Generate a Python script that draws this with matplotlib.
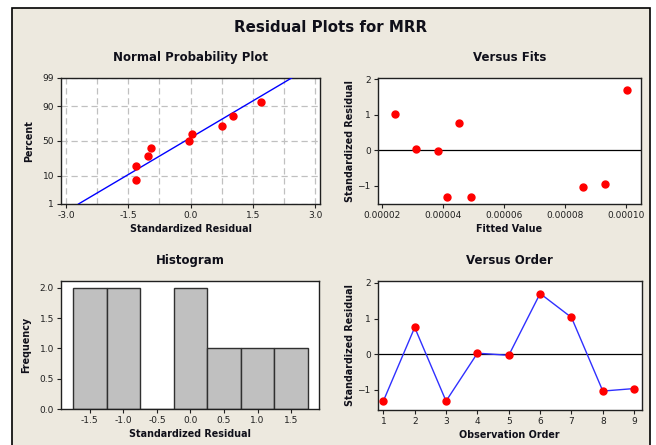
import numpy as np
import matplotlib
matplotlib.use('Agg')
from matplotlib import pyplot as plt
from matplotlib.patches import Rectangle
from matplotlib.ticker import MultipleLocator, FormatStrFormatter
from statistics import NormalDist

# Data
obs_order = [1, 2, 3, 4, 5, 6, 7, 8, 9]
residuals = [-1.31, 0.75, -1.31, 0.03, -0.03, 1.70, 1.03, -1.03, -0.96]
fitted = [4.13e-5, 4.53e-5, 4.94e-5, 3.135e-5, 3.835e-5, 1.003e-4, 2.446e-5, 8.6e-5, 9.33e-5]
prob_percent = [7.4, 18.1, 28.7, 39.4, 50.0, 60.6, 71.3, 81.9, 92.6]
hist_centers = [-1.5, -1.0, -0.5, 0.0, 0.5, 1.0, 1.5]
hist_counts = [2, 2, 0, 2, 1, 1, 1]
pct_ticks = [1, 10, 50, 90, 99]

nd = NormalDist()
def z(p):
    return nd.inv_cdf(p / 100.0)

W, H = 656, 445
bg = '#EDE9DF'
title_kw = dict(fontsize=8.5, fontweight='bold', color='#10101a')
label_kw = dict(fontsize=6.9, fontweight='bold', color='#10101a')

fig = plt.figure(figsize=(W / 100, H / 100), dpi=100)
fig.patch.set_facecolor('white')
fig.patches.append(Rectangle((12 / W, -0.05), (650 - 12) / W, 1.05 - 8 / H,
                             transform=fig.transFigure, facecolor=bg,
                             edgecolor='black', lw=1.2, zorder=-10))

fig.text(331 / W, 1 - 28 / H, 'Residual Plots for MRR', ha='center', va='center',
         fontsize=10.8, fontweight='bold', color='#10101a')


def px_axes(l, t, r, b):
    return fig.add_axes([l / W, 1 - b / H, (r - l) / W, (b - t) / H])


def style(ax):
    ax.set_facecolor('white')
    for s in ax.spines.values():
        s.set_color('#202020')
        s.set_linewidth(1.0)
    ax.tick_params(labelsize=6.5, length=3, width=0.8, colors='#202020', pad=2)


# Normal probability plot
ax1 = px_axes(61, 77.7, 320, 204)
style(ax1)
srt = np.sort(residuals)
zs = [z(p) for p in prob_percent]
mu, sd = np.mean(residuals), np.std(residuals, ddof=1)
zl = np.array([z(1), z(99)])
ax1.plot(mu + sd * zl, zl, color='blue', lw=1, zorder=3)
ax1.plot(srt, zs, 'o', color='red', ms=5, mec='red', zorder=4)
ax1.set_xlim(-3.12, 3.12)
ax1.set_ylim(z(1), z(99))
ax1.set_xticks([-3.0, -1.5, 0.0, 1.5, 3.0])
ax1.xaxis.set_major_formatter(FormatStrFormatter('%.1f'))
ax1.set_xticks(np.arange(-3.0, 3.01, 0.75), minor=True)
ax1.tick_params(axis='x', which='minor', length=0)
ax1.set_yticks([z(p) for p in pct_ticks])
ax1.set_yticklabels([str(p) for p in pct_ticks])
ax1.grid(True, which='both', axis='x', color='#c0c0c0', ls=(0, (5, 3)), lw=0.9)
ax1.grid(True, which='major', axis='y', color='#c0c0c0', ls=(0, (5, 3)), lw=0.9)
ax1.set_axisbelow(True)
ax1.set_title('Normal Probability Plot', pad=12, **title_kw)
ax1.set_xlabel('Standardized Residual', labelpad=3, **label_kw)
ax1.set_ylabel('Percent', labelpad=6, **label_kw)

# Versus fits
ax2 = px_axes(377.7, 77.7, 641, 204)
style(ax2)
ax2.axhline(0, color='black', lw=0.9)
ax2.plot(fitted, residuals, 'o', color='red', ms=5, zorder=4)
ax2.set_xlim(1.869e-5, 1.0502e-4)
ax2.set_ylim(-1.52, 2.04)
ax2.set_xticks([2e-5, 4e-5, 6e-5, 8e-5, 1e-4])
ax2.xaxis.set_major_formatter(FormatStrFormatter('%.5f'))
ax2.set_yticks([-1, 0, 1, 2])
ax2.set_title('Versus Fits', pad=12, **title_kw)
ax2.set_xlabel('Fitted Value', labelpad=3, **label_kw)
ax2.set_ylabel('Standardized Residual', labelpad=2, **label_kw)

# Histogram
ax3 = px_axes(61, 280.7, 319.3, 409.3)
style(ax3)
ax3.bar(hist_centers, hist_counts, width=0.5, color='#c0c0c0',
        edgecolor='#303030', lw=1.0)
ax3.set_xlim(-1.93, 1.92)
ax3.set_ylim(0, 2.115)
ax3.set_xticks(hist_centers)
ax3.xaxis.set_major_formatter(FormatStrFormatter('%.1f'))
ax3.yaxis.set_major_locator(MultipleLocator(0.5))
ax3.yaxis.set_major_formatter(FormatStrFormatter('%.1f'))
ax3.set_title('Histogram', pad=12, **title_kw)
ax3.set_xlabel('Standardized Residual', labelpad=3, **label_kw)
ax3.set_ylabel('Frequency', labelpad=6, **label_kw)

# Versus order
ax4 = px_axes(377.7, 281, 641.7, 410)
style(ax4)
ax4.axhline(0, color='black', lw=0.9)
ax4.plot(obs_order, residuals, '-', color='#3030ff', lw=1, zorder=3)
ax4.plot(obs_order, residuals, 'o', color='red', ms=5, zorder=4)
ax4.set_xlim(0.82, 9.24)
ax4.set_ylim(-1.56, 2.05)
ax4.set_xticks(obs_order)
ax4.set_yticks([-1, 0, 1, 2])
ax4.set_title('Versus Order', pad=12, **title_kw)
ax4.set_xlabel('Observation Order', labelpad=3, **label_kw)
ax4.set_ylabel('Standardized Residual', labelpad=2, **label_kw)

fig.savefig('out.png', dpi=100, facecolor=fig.get_facecolor())
